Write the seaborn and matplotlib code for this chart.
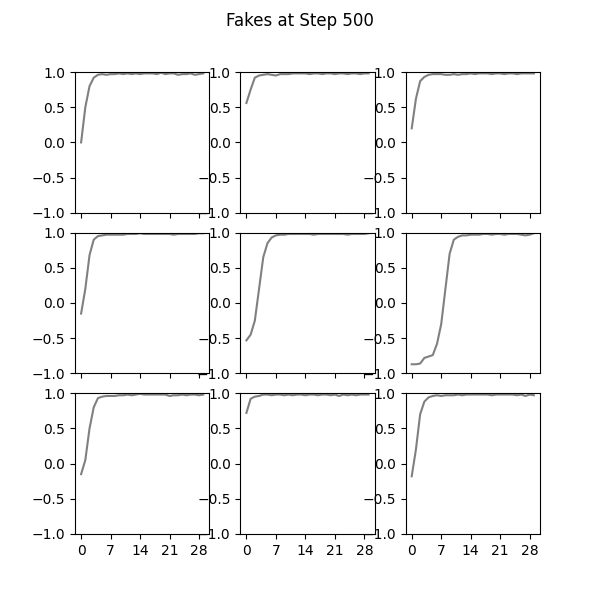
import matplotlib
matplotlib.use("Agg")
import matplotlib.pyplot as plt
import seaborn as sns
import numpy as np

steps = list(range(30))

p1 = [0.0, 0.5, 0.8, 0.92, 0.96, 0.97, 0.96, 0.97, 0.97, 0.98, 0.97, 0.98, 0.97, 0.98, 0.97, 0.98, 0.98, 0.98, 0.97, 0.99, 0.97, 0.98, 0.98, 0.96, 0.97, 0.97, 0.98, 0.96, 0.97, 0.98]
p2 = [0.56, 0.75, 0.92, 0.95, 0.96, 0.97, 0.96, 0.95, 0.97, 0.97, 0.97, 0.98, 0.98, 0.98, 0.98, 0.97, 0.98, 0.98, 0.97, 0.98, 0.98, 0.97, 0.98, 0.98, 0.97, 0.98, 0.98, 0.97, 0.98, 0.98]
p3 = [0.2, 0.62, 0.87, 0.93, 0.96, 0.97, 0.97, 0.97, 0.96, 0.96, 0.97, 0.96, 0.97, 0.97, 0.98, 0.97, 0.98, 0.98, 0.98, 0.97, 0.98, 0.98, 0.97, 0.98, 0.98, 0.97, 0.98, 0.98, 0.98, 0.98]
p4 = [-0.15, 0.2, 0.68, 0.9, 0.95, 0.96, 0.97, 0.97, 0.97, 0.97, 0.97, 0.98, 0.98, 0.98, 0.99, 0.98, 0.98, 0.98, 0.98, 0.98, 0.98, 0.98, 0.97, 0.98, 0.98, 0.98, 0.98, 0.98, 0.99, 0.99]
p5 = [-0.53, -0.45, -0.25, 0.2, 0.65, 0.85, 0.93, 0.96, 0.97, 0.97, 0.98, 0.98, 0.98, 0.98, 0.98, 0.98, 0.97, 0.98, 0.98, 0.98, 0.98, 0.98, 0.98, 0.98, 0.97, 0.98, 0.98, 0.98, 0.98, 0.99]
p6 = [-0.87, -0.87, -0.86, -0.78, -0.76, -0.74, -0.58, -0.3, 0.2, 0.7, 0.9, 0.94, 0.96, 0.96, 0.97, 0.97, 0.97, 0.98, 0.98, 0.97, 0.98, 0.98, 0.97, 0.98, 0.98, 0.98, 0.97, 0.96, 0.97, 0.99]
p7 = [-0.15, 0.05, 0.5, 0.8, 0.93, 0.95, 0.96, 0.96, 0.96, 0.97, 0.97, 0.98, 0.97, 0.98, 0.99, 0.98, 0.98, 0.98, 0.98, 0.98, 0.98, 0.96, 0.97, 0.97, 0.98, 0.97, 0.98, 0.98, 0.97, 0.98]
p8 = [0.72, 0.92, 0.95, 0.96, 0.98, 0.98, 0.97, 0.98, 0.98, 0.97, 0.98, 0.97, 0.98, 0.98, 0.97, 0.98, 0.98, 0.97, 0.98, 0.98, 0.97, 0.98, 0.96, 0.98, 0.97, 0.98, 0.97, 0.98, 0.98, 0.98]
p9 = [-0.18, 0.2, 0.7, 0.88, 0.94, 0.96, 0.97, 0.96, 0.97, 0.97, 0.97, 0.98, 0.97, 0.98, 0.98, 0.98, 0.98, 0.98, 0.98, 0.97, 0.98, 0.98, 0.98, 0.98, 0.98, 0.97, 0.98, 0.96, 0.98, 0.97]
panels = [p1, p2, p3, p4, p5, p6, p7, p8, p9]

fig, axes = plt.subplots(3, 3, figsize=(6, 6), dpi=100, sharex=True)
fig.subplots_adjust(left=0.125, right=0.9, top=0.88, bottom=0.11, wspace=0.23, hspace=0.14)

for ax, vals in zip(axes.flat, panels):
    sns.lineplot(x=steps, y=vals, color="grey", ax=ax)
    ax.set_ylim(-1, 1)
    ax.set_yticks(np.arange(-1, 1.01, 0.5))
    ax.set_xticks([0, 7, 14, 21, 28])

fig.suptitle("Fakes at Step 500")
plt.savefig("out.png", dpi=100)
